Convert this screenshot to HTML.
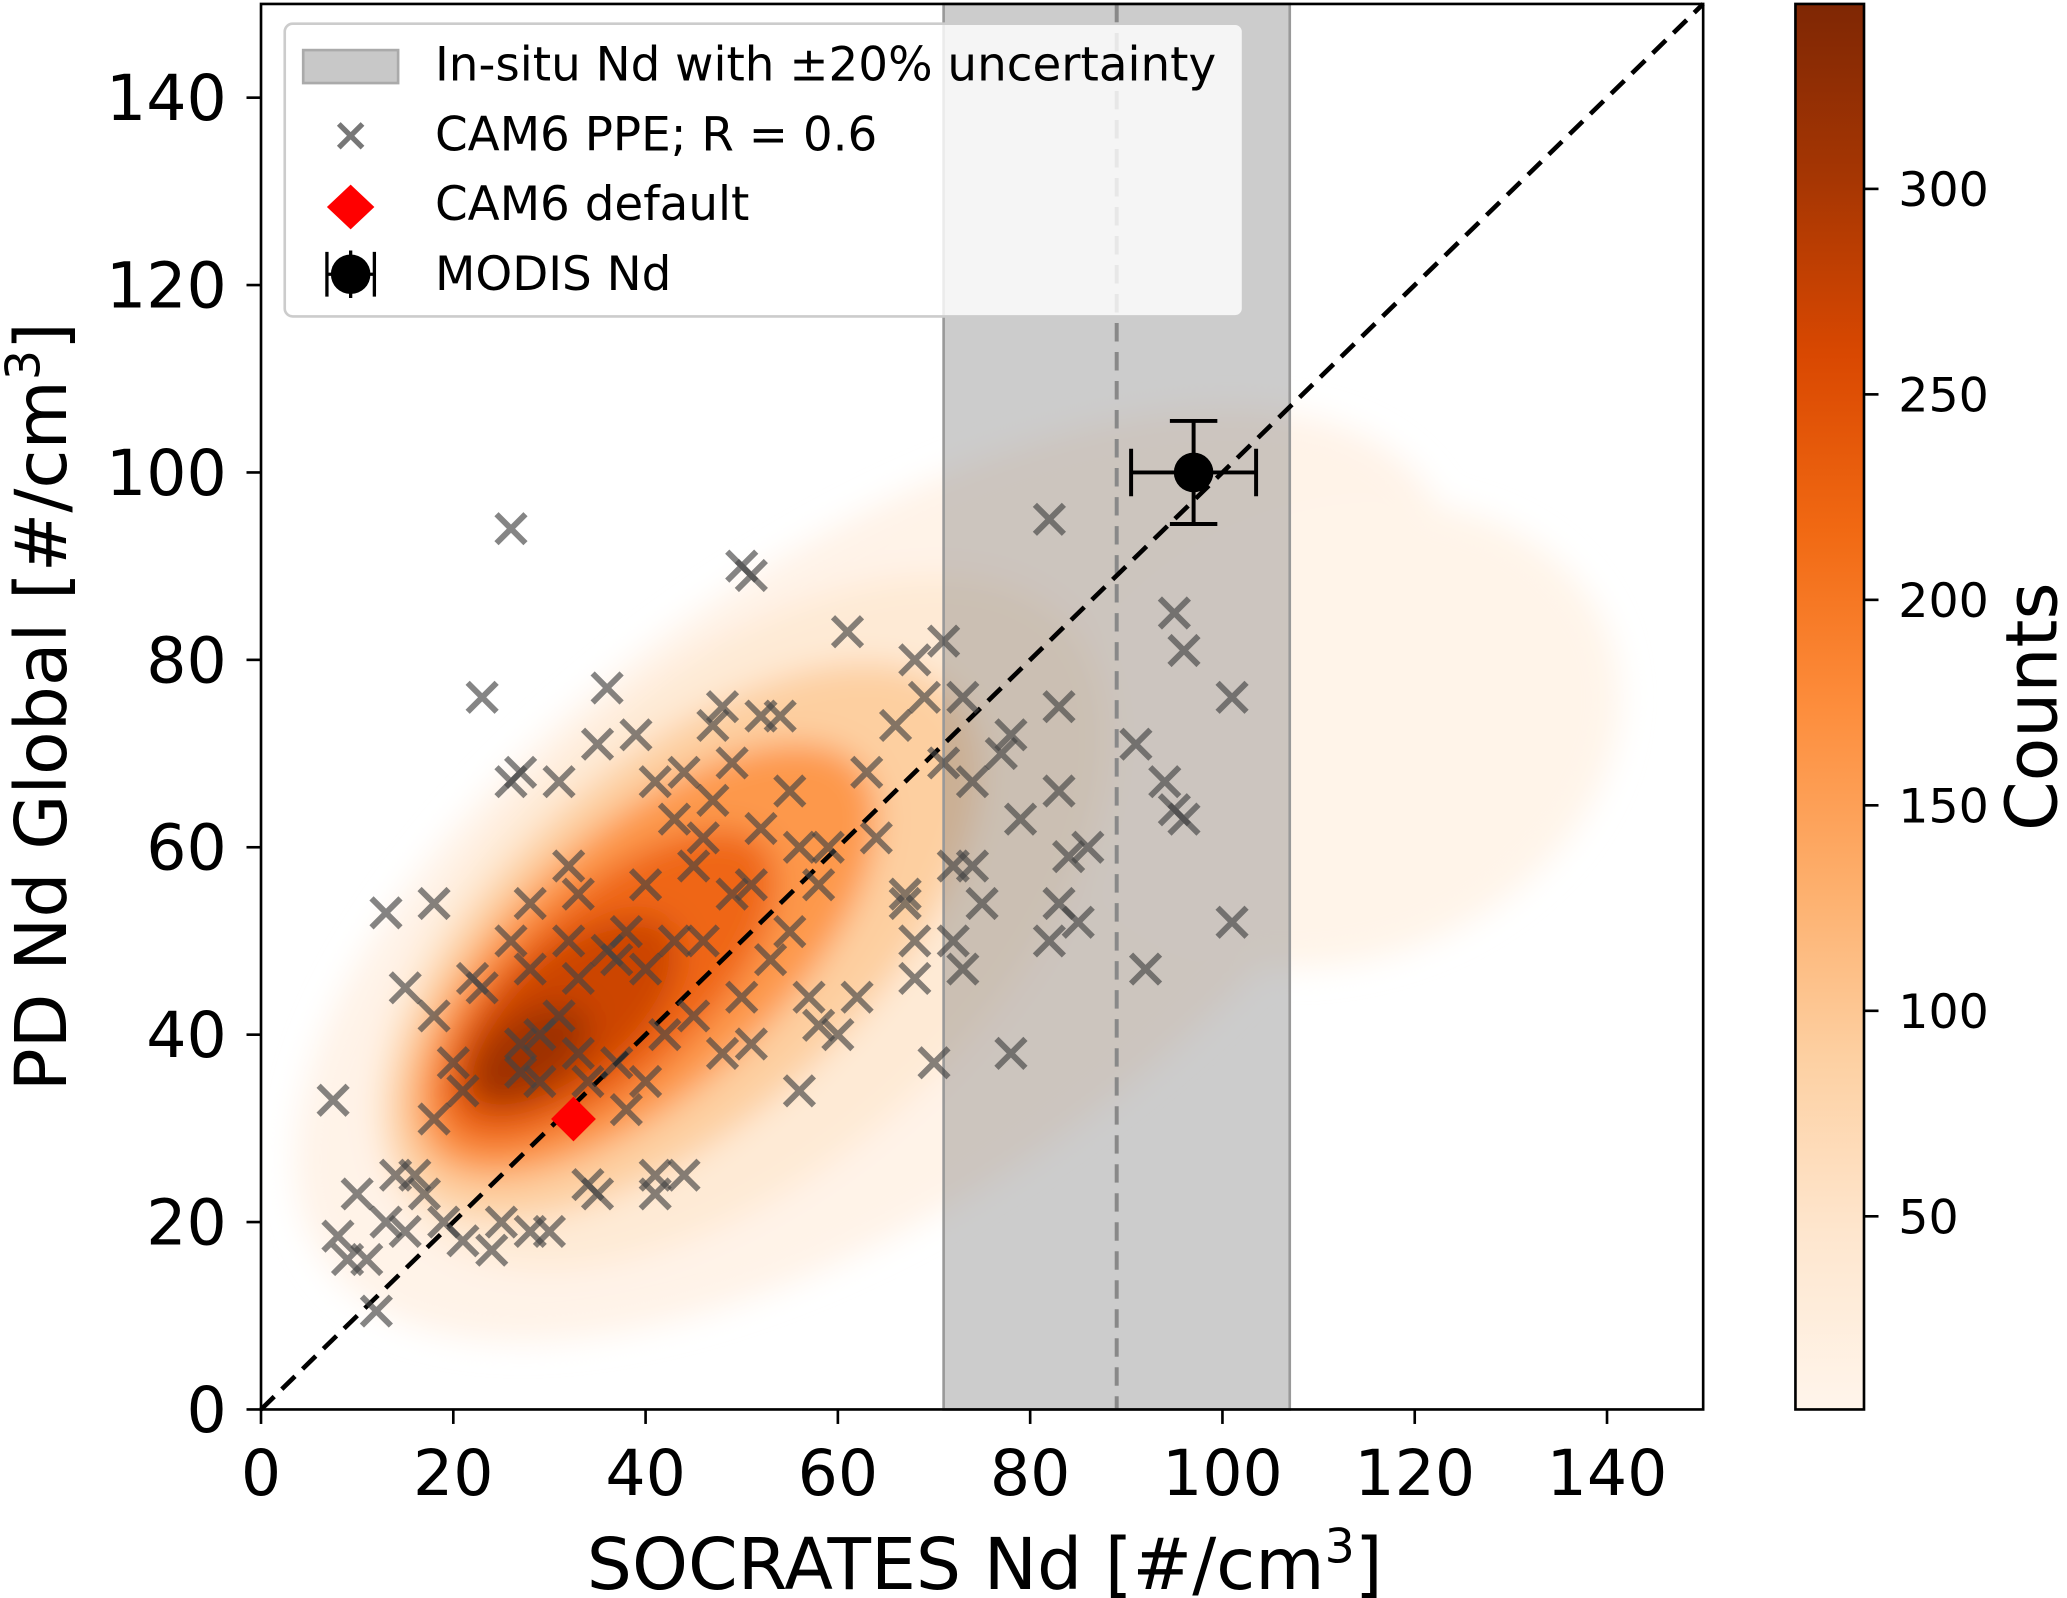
<!DOCTYPE html>
<html><head><meta charset="utf-8"><style>
html,body{margin:0;padding:0;background:#fff;}
svg{display:block;font-family:"DejaVu Sans","Liberation Sans",sans-serif;}
</style></head><body>
<svg id="chart" width="2067" height="1598" viewBox="0 0 1568 1212" preserveAspectRatio="none" xmlns="http://www.w3.org/2000/svg">
<defs>
<filter id="blur" x="-20%" y="-20%" width="140%" height="140%"><feGaussianBlur stdDeviation="12"/></filter>
<linearGradient id="cbgrad" x1="0" y1="1" x2="0" y2="0">
<stop offset="0" stop-color="#fff5eb"/><stop offset="0.125" stop-color="#fee6ce"/><stop offset="0.25" stop-color="#fdd0a2"/><stop offset="0.375" stop-color="#fdae6b"/><stop offset="0.5" stop-color="#fd8d3c"/><stop offset="0.625" stop-color="#f16913"/><stop offset="0.75" stop-color="#d94801"/><stop offset="0.875" stop-color="#a63603"/><stop offset="1" stop-color="#7f2704"/>
</linearGradient>
<clipPath id="plotclip"><rect x="198" y="3" width="1094" height="1066"/></clipPath>
</defs>
<g id="density" clip-path="url(#plotclip)" filter="url(#blur)"></g>
<g id="band"></g>
<g id="lines"></g>
<g id="ppe"></g>
<g id="marks"></g>
<rect x="198" y="3" width="1094" height="1066" fill="none" stroke="#000" stroke-width="2"/>
<g id="axes" font-size="48"></g>
<text x="747" y="1205" font-size="54" text-anchor="middle">SOCRATES Nd [#/cm<tspan dy="-20" font-size="36">3</tspan><tspan dy="20">]</tspan></text>
<text transform="translate(50,536) rotate(-90)" font-size="54" text-anchor="middle">PD Nd Global [#/cm<tspan dy="-20" font-size="36">3</tspan><tspan dy="20">]</tspan></text>
<g>
<rect x="216" y="18" width="727" height="222" rx="6" fill="#fff" fill-opacity="0.8" stroke="#ccc" stroke-width="2"/>
<rect x="230" y="38" width="72" height="25" fill="#c8c8c8" stroke="#aaa" stroke-width="2"/>
<text x="330" y="61" font-size="35.5">In-situ Nd with ±20% uncertainty</text>
<path d="M257 94 L275 112 M275 94 L257 112" stroke="#555" stroke-opacity="0.8" stroke-width="4"/>
<text x="330" y="114" font-size="35.5">CAM6 PPE; R = 0.6</text>
<path d="M266 140 L284 157 L266 174 L248 157 Z" fill="#f00"/>
<text x="330" y="167" font-size="35.5">CAM6 default</text>
<g><path d="M248 191 V225 M284 191 V225 M248 208 H284 M266 190 V226" stroke="#000" stroke-width="2.5"/><circle cx="266" cy="208" r="15" fill="#000"/></g>
<text x="330" y="220" font-size="35.5">MODIS Nd</text>
</g>
<g id="cbar">
<rect x="1362" y="3" width="52" height="1066" fill="url(#cbgrad)" stroke="#000" stroke-width="2"/>
</g>
<text transform="translate(1560,536) rotate(-90)" font-size="54" text-anchor="middle">Counts</text>
<script>
const xTicks=[0,20,40,60,80,100,120,140];
const yTicks=[0,20,40,60,80,100,120,140];
const cbTicks=[50,100,150,200,250,300];
const cbMin=3, cbMax=345;
const bandLo=71, bandCenter=89, bandHi=107;
const modisX=[97], modisY=[100], modisXErr=[6.5], modisYErr=[5.5];
const defaultX=[32.5], defaultY=[31];
const ppeX=[7.5,8,9,10,11,12,13,13,14,15,15,16,17,18,18,18,19,20,21,21,22,23,23,24,25,26,26,26,27,27,27,28,28,28,29,29,30,31,31,32,32,33,33,33,34,34,35,35,36,36,37,37,38,38,39,40,40,40,41,41,41,42,43,43,44,44,45,45,46,46,47,47,48,48,49,49,50,50,51,51,51,52,52,53,54,55,55,56,56,57,58,58,59,60,61,62,63,64,66,67,67,68,68,68,69,70,71,71,73,72,72,73,74,74,75,77,78,78,79,82,82,83,83,83,84,85,86,91,92,94,95,95,96,96,101,101];
const ppeY=[33,18.5,16,23,16,10.5,20,53,25,19,45,25,23,54,42,31,20,37,34,18,46,45,76,17,20,94,50,67,68,39,36,19,54,47,35,40,19,67,42,58,50,55,38,46,35,24,71,23,77,49,48,37,32,51,72,56,47,35,25,23,67,40,63,50,68,25,42,58,50,61,73,65,75,38,55,69,90,44,89,56,39,74,62,48,74,66,51,34,60,44,56,41,60,40,83,44,68,61,73,55,54,50,46,80,76,37,82,69,76,58,50,47,58,67,54,70,72,38,63,95,50,75,66,54,59,52,60,71,47,67,85,64,81,63,52,76];
// density layers (data units): center, semi-axes, angle (deg), count
const densCx=[64,112,50,44,40,36,32,28];
const densCy=[57,72,52,50,48,45,42,38];
const densA=[70,30,46,38,30,22,14,7];
const densB=[34,24,26,19,14,10,7,4];
const densAng=[35,20,42,42,42,42,40,35];
const densCount=[8,6,35,90,160,220,270,310];

const X=v=>198+v*1094/150, Y=v=>1069-v*1066/150;
const NS="http://www.w3.org/2000/svg";
function mk(t,a,p){const e=document.createElementNS(NS,t);for(const k in a)e.setAttribute(k,a[k]);p.appendChild(e);return e;}
const stops=["#fff5eb","#fee6ce","#fdd0a2","#fdae6b","#fd8d3c","#f16913","#d94801","#a63603","#7f2704"];
function cmap(c){let t=Math.max(0,Math.min(1,(c-cbMin)/(cbMax-cbMin)))*8;const i=Math.min(7,Math.floor(t)),f=t-i;
const a=stops[i],b=stops[i+1];const h=(s,o)=>parseInt(s.substr(o,2),16);
const r=[1,3,5].map(o=>Math.round(h(a,o)+(h(b,o)-h(a,o))*f));return `rgb(${r})`;}
const dens=document.getElementById('density');
densCx.forEach((cx,i)=>{
 const e=mk('ellipse',{cx:0,cy:0,rx:densA[i]*1094/150,ry:densB[i]*1066/150,fill:cmap(densCount[i]),transform:`translate(${X(cx)},${Y(densCy[i])}) rotate(${-densAng[i]})`},dens);
 
 
});
const band=document.getElementById('band');
const br=mk('rect',{x:X(bandLo),y:3,width:X(bandHi)-X(bandLo),height:1066,fill:'#808080','fill-opacity':0.4,stroke:'#999','stroke-width':2},band);


const lines=document.getElementById('lines');
const vl=mk('line',{x1:X(bandCenter),y1:3,x2:X(bandCenter),y2:1069,stroke:'#888','stroke-width':3,'stroke-dasharray':'14 8'},lines);


const dl=mk('line',{x1:X(0),y1:Y(0),x2:X(150),y2:Y(150),stroke:'#000','stroke-width':3.5,'stroke-dasharray':'14 8'},lines);


const ppe=document.getElementById('ppe');
ppeX.forEach((x,i)=>{const px=X(x),py=Y(ppeY[i]),s=11;
 const p=mk('path',{d:`M${px-s} ${py-s}L${px+s} ${py+s}M${px+s} ${py-s}L${px-s} ${py+s}`,stroke:'#444','stroke-opacity':0.65,'stroke-width':4.5},ppe);
 
 
});
const marks=document.getElementById('marks');
defaultX.forEach((x,i)=>{const px=X(x),py=Y(defaultY[i]),s=17;
 const d=mk('path',{d:`M${px} ${py-s}L${px+s} ${py}L${px} ${py+s}L${px-s} ${py}Z`,fill:'#f00'},marks);
 
 
});
modisX.forEach((x,i)=>{const px=X(x),py=Y(modisY[i]);
 const g=mk('g',{},marks);
 
 
 const x1=X(x-modisXErr[i]),x2=X(x+modisXErr[i]),y1=Y(modisY[i]+modisYErr[i]),y2=Y(modisY[i]-modisYErr[i]);
 mk('path',{d:`M${x1} ${py}H${x2}M${px} ${y1}V${y2}M${x1} ${py-18}V${py+18}M${x2} ${py-18}V${py+18}M${px-18} ${y1}H${px+18}M${px-18} ${y2}H${px+18}`,stroke:'#000','stroke-width':3,fill:'none'},g);
 mk('circle',{cx:px,cy:py,r:15,fill:'#000'},g);
});
const axes=document.getElementById('axes');
xTicks.forEach(v=>{mk('line',{x1:X(v),y1:1069,x2:X(v),y2:1080,stroke:'#000','stroke-width':2},axes);
 const t=mk('text',{x:X(v),y:1134,'text-anchor':'middle'},axes);t.textContent=v;
 
 });
yTicks.forEach(v=>{mk('line',{x1:187,y1:Y(v),x2:198,y2:Y(v),stroke:'#000','stroke-width':2},axes);
 const t=mk('text',{x:172,y:Y(v)+17,'text-anchor':'end'},axes);t.textContent=v;
 
 });
const cb=document.getElementById('cbar');
const CY=v=>1069-(v-cbMin)/(cbMax-cbMin)*1066;
cbTicks.forEach(v=>{mk('line',{x1:1414,y1:CY(v),x2:1425,y2:CY(v),stroke:'#000','stroke-width':2},cb);
 const t=mk('text',{x:1440,y:CY(v)+13,'font-size':36},cb);t.textContent=v;
 
 });
</script>
</svg>
</body></html>
